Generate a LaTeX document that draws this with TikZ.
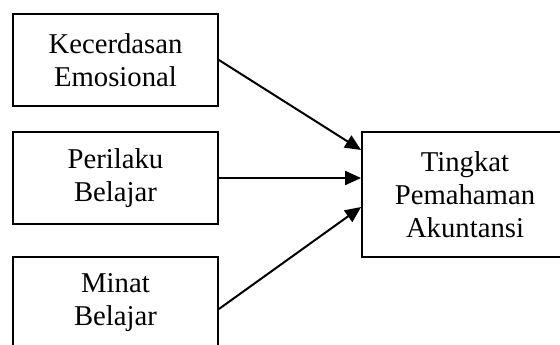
\documentclass[tikz,border=0pt]{standalone}
\usepackage{fontspec}
\setmainfont{Liberation Serif}
\usetikzlibrary{arrows.meta}
\begin{document}
\begin{tikzpicture}[x=1pt,y=-1pt,
  box/.style={draw, line width=1.8pt, minimum width=205pt, minimum height=92pt,
    align=center, inner sep=0pt, font=\fontsize{28.7}{33}\selectfont},
  conn/.style={line width=2pt, -{Triangle[length=16pt,width=14pt]}}]
\useasboundingbox (0,0) rectangle (560,345);
\clip (0,0) rectangle (560,345);
\node[box] (b1) at (115.5,60) {Kecerdasan\\Emosional};
\node[box] (b2) at (115.5,178) {Perilaku\\Belajar};
\node[box] (b3) at (115.5,303) {Minat\\Belajar};
\node[box, minimum width=206pt, minimum height=125pt] (c) at (465,194.5) {Tingkat\\Pemahaman\\Akuntansi};
\coordinate (s3) at ([yshift=-6pt]b3.east);
\coordinate (t1) at ([yshift=44.5pt]c.west);
\coordinate (t2) at ([yshift=16.5pt]c.west);
\coordinate (t3) at ([yshift=-12.5pt]c.west);
\draw[conn] (b1.east) -- (t1);
\draw[conn] (b2.east) -- (t2);
\draw[conn] (s3) -- (t3);
\end{tikzpicture}
\end{document}
